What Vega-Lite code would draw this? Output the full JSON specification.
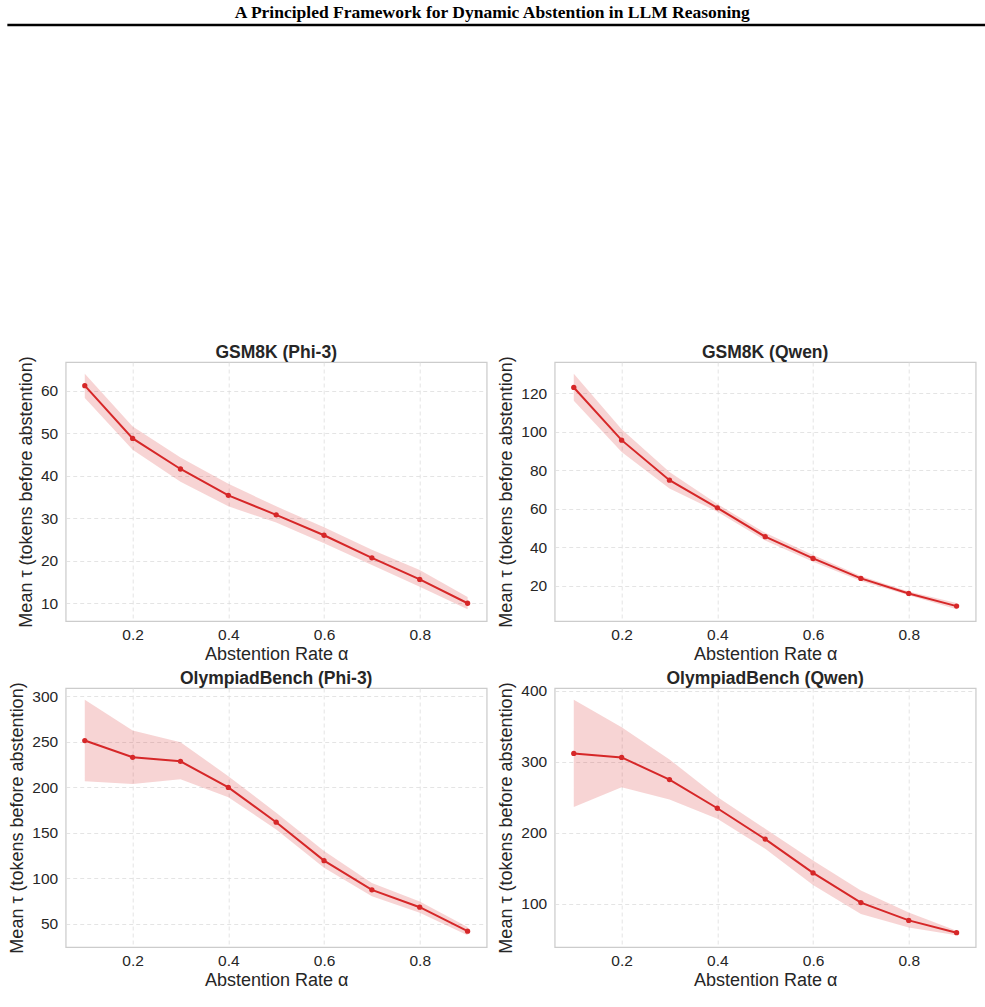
{
  "$schema": "https://vega.github.io/schema/vega-lite/v6.json",
  "background": "white",
  "padding": {"left": 6, "top": 4, "right": 0, "bottom": 0},
  "center": true,
  "spacing": 316,
  "config": {
    "font": "Liberation Sans",
    "view": {"stroke": "#cccccc", "strokeWidth": 1.25},
    "title": {"font": "Liberation Sans", "fontSize": 17.5, "fontWeight": "bold", "color": "#262626", "anchor": "middle", "offset": -6},
    "axis": {
      "domain": false,
      "ticks": false,
      "grid": true,
      "gridColor": "#dddddd",
      "gridDash": [4, 3],
      "gridWidth": 0.8,
      "labelFont": "Liberation Sans",
      "labelFontSize": 15.5,
      "labelColor": "#262626",
      "titleFont": "Liberation Sans",
      "titleFontSize": 18,
      "titleFontWeight": "normal",
      "titleColor": "#262626",
      "tickCount": 5
    },
    "axisX": {"labelPadding": 6, "titlePadding": 3},
    "axisY": {"labelPadding": 8, "titlePadding": 5}
  },
  "datasets": {
    "tau": [
      {"panel": "GSM8K (Phi-3)", "alpha": 0.1, "mean": 61.2, "lo": 58.3, "hi": 64.0},
      {"panel": "GSM8K (Phi-3)", "alpha": 0.2, "mean": 48.8, "lo": 46.1, "hi": 51.6},
      {"panel": "GSM8K (Phi-3)", "alpha": 0.3, "mean": 41.6, "lo": 38.6, "hi": 44.3},
      {"panel": "GSM8K (Phi-3)", "alpha": 0.4, "mean": 35.4, "lo": 32.8, "hi": 38.1},
      {"panel": "GSM8K (Phi-3)", "alpha": 0.5, "mean": 30.8, "lo": 29.0, "hi": 32.8},
      {"panel": "GSM8K (Phi-3)", "alpha": 0.6, "mean": 26.0, "lo": 24.1, "hi": 27.9},
      {"panel": "GSM8K (Phi-3)", "alpha": 0.7, "mean": 20.7, "lo": 19.0, "hi": 22.6},
      {"panel": "GSM8K (Phi-3)", "alpha": 0.8, "mean": 15.6, "lo": 13.9, "hi": 17.8},
      {"panel": "GSM8K (Phi-3)", "alpha": 0.9, "mean": 10.0, "lo": 8.6, "hi": 11.5},
      {"panel": "GSM8K (Qwen)", "alpha": 0.1, "mean": 123.1, "lo": 116.2, "hi": 130.2},
      {"panel": "GSM8K (Qwen)", "alpha": 0.2, "mean": 95.7, "lo": 89.6, "hi": 101.4},
      {"panel": "GSM8K (Qwen)", "alpha": 0.3, "mean": 74.9, "lo": 70.6, "hi": 79.2},
      {"panel": "GSM8K (Qwen)", "alpha": 0.4, "mean": 60.5, "lo": 58.5, "hi": 62.5},
      {"panel": "GSM8K (Qwen)", "alpha": 0.5, "mean": 45.5, "lo": 43.5, "hi": 47.5},
      {"panel": "GSM8K (Qwen)", "alpha": 0.6, "mean": 34.2, "lo": 32.5, "hi": 36.0},
      {"panel": "GSM8K (Qwen)", "alpha": 0.7, "mean": 23.8, "lo": 22.5, "hi": 25.0},
      {"panel": "GSM8K (Qwen)", "alpha": 0.8, "mean": 16.0, "lo": 15.0, "hi": 17.0},
      {"panel": "GSM8K (Qwen)", "alpha": 0.9, "mean": 9.4, "lo": 7.8, "hi": 11.0},
      {"panel": "OlympiadBench (Phi-3)", "alpha": 0.1, "mean": 251.2, "lo": 206.4, "hi": 295.9},
      {"panel": "OlympiadBench (Phi-3)", "alpha": 0.2, "mean": 232.8, "lo": 203.5, "hi": 262.2},
      {"panel": "OlympiadBench (Phi-3)", "alpha": 0.3, "mean": 228.4, "lo": 208.6, "hi": 249.4},
      {"panel": "OlympiadBench (Phi-3)", "alpha": 0.4, "mean": 199.8, "lo": 189.0, "hi": 212.1},
      {"panel": "OlympiadBench (Phi-3)", "alpha": 0.5, "mean": 161.6, "lo": 153.6, "hi": 171.9},
      {"panel": "OlympiadBench (Phi-3)", "alpha": 0.6, "mean": 119.4, "lo": 111.6, "hi": 130.0},
      {"panel": "OlympiadBench (Phi-3)", "alpha": 0.7, "mean": 87.4, "lo": 80.3, "hi": 94.9},
      {"panel": "OlympiadBench (Phi-3)", "alpha": 0.8, "mean": 68.3, "lo": 62.1, "hi": 74.6},
      {"panel": "OlympiadBench (Phi-3)", "alpha": 0.9, "mean": 42.0, "lo": 37.6, "hi": 46.7},
      {"panel": "OlympiadBench (Qwen)", "alpha": 0.1, "mean": 311.8, "lo": 236.3, "hi": 387.4},
      {"panel": "OlympiadBench (Qwen)", "alpha": 0.2, "mean": 306.1, "lo": 264.2, "hi": 348.6},
      {"panel": "OlympiadBench (Qwen)", "alpha": 0.3, "mean": 274.9, "lo": 246.6, "hi": 303.3},
      {"panel": "OlympiadBench (Qwen)", "alpha": 0.4, "mean": 234.4, "lo": 219.7, "hi": 250.4},
      {"panel": "OlympiadBench (Qwen)", "alpha": 0.5, "mean": 190.9, "lo": 177.2, "hi": 205.5},
      {"panel": "OlympiadBench (Qwen)", "alpha": 0.6, "mean": 143.2, "lo": 126.2, "hi": 160.8},
      {"panel": "OlympiadBench (Qwen)", "alpha": 0.7, "mean": 101.3, "lo": 85.2, "hi": 118.3},
      {"panel": "OlympiadBench (Qwen)", "alpha": 0.8, "mean": 76.2, "lo": 66.3, "hi": 87.5},
      {"panel": "OlympiadBench (Qwen)", "alpha": 0.9, "mean": 58.8, "lo": 55.3, "hi": 61.6}
    ]
  },
  "vconcat": [
    {
      "width": 1026,
      "height": 1,
      "view": {"stroke": null},
      "title": {
        "text": "A Principled Framework for Dynamic Abstention in LLM Reasoning",
        "font": "Liberation Serif",
        "fontSize": 17.5,
        "fontWeight": "bold",
        "color": "black",
        "anchor": "middle",
        "offset": 2,
        "dx": -28
      },
      "data": {"values": [{}]},
      "mark": {"type": "rule", "color": "black", "strokeWidth": 2.6},
      "encoding": {
        "y": {"datum": 0, "type": "quantitative", "scale": {"domain": [0, 1]}, "axis": null}
      }
    },
    {
      "spacing": 4,
      "vconcat": [
        {
          "spacing": 9,
          "hconcat": [
            {
              "title": "GSM8K (Phi-3)",
              "width": 421, "height": 259,
              "data": {"name": "tau"},
              "transform": [{"filter": "datum.panel === 'GSM8K (Phi-3)'"}],
              "encoding": {"x": {"field": "alpha", "type": "quantitative", "title": "Abstention Rate α", "scale": {"zero": false, "nice": false, "padding": 19.1}}},
              "layer": [
                {"mark": {"type": "area", "color": "#d62728", "opacity": 0.2}, "encoding": {"y": {"field": "lo", "type": "quantitative", "title": "Mean τ (tokens before abstention)", "scale": {"zero": false, "nice": false, "padding": 11.8}}, "y2": {"field": "hi"}}},
                {"mark": {"type": "line", "color": "#d62728", "strokeWidth": 2}, "encoding": {"y": {"field": "mean", "type": "quantitative", "title": "Mean τ (tokens before abstention)"}}},
                {"mark": {"type": "point", "filled": true, "color": "#d62728", "size": 28, "opacity": 1}, "encoding": {"y": {"field": "mean", "type": "quantitative", "title": "Mean τ (tokens before abstention)"}}}
              ]
            },
            {
              "title": "GSM8K (Qwen)",
              "width": 421, "height": 259,
              "data": {"name": "tau"},
              "transform": [{"filter": "datum.panel === 'GSM8K (Qwen)'"}],
              "encoding": {"x": {"field": "alpha", "type": "quantitative", "title": "Abstention Rate α", "scale": {"zero": false, "nice": false, "padding": 19.1}}},
              "layer": [
                {"mark": {"type": "area", "color": "#d62728", "opacity": 0.2}, "encoding": {"y": {"field": "lo", "type": "quantitative", "title": "Mean τ (tokens before abstention)", "scale": {"zero": false, "nice": false, "padding": 11.8}}, "y2": {"field": "hi"}}},
                {"mark": {"type": "line", "color": "#d62728", "strokeWidth": 2}, "encoding": {"y": {"field": "mean", "type": "quantitative", "title": "Mean τ (tokens before abstention)"}}},
                {"mark": {"type": "point", "filled": true, "color": "#d62728", "size": 28, "opacity": 1}, "encoding": {"y": {"field": "mean", "type": "quantitative", "title": "Mean τ (tokens before abstention)"}}}
              ]
            }
          ]
        },
        {
          "spacing": 9,
          "hconcat": [
            {
              "title": "OlympiadBench (Phi-3)",
              "width": 421, "height": 259,
              "data": {"name": "tau"},
              "transform": [{"filter": "datum.panel === 'OlympiadBench (Phi-3)'"}],
              "encoding": {"x": {"field": "alpha", "type": "quantitative", "title": "Abstention Rate α", "scale": {"zero": false, "nice": false, "padding": 19.1}}},
              "layer": [
                {"mark": {"type": "area", "color": "#d62728", "opacity": 0.2}, "encoding": {"y": {"field": "lo", "type": "quantitative", "title": "Mean τ (tokens before abstention)", "scale": {"zero": false, "nice": false, "padding": 11.8}}, "y2": {"field": "hi"}}},
                {"mark": {"type": "line", "color": "#d62728", "strokeWidth": 2}, "encoding": {"y": {"field": "mean", "type": "quantitative", "title": "Mean τ (tokens before abstention)"}}},
                {"mark": {"type": "point", "filled": true, "color": "#d62728", "size": 28, "opacity": 1}, "encoding": {"y": {"field": "mean", "type": "quantitative", "title": "Mean τ (tokens before abstention)"}}}
              ]
            },
            {
              "title": "OlympiadBench (Qwen)",
              "width": 421, "height": 259,
              "data": {"name": "tau"},
              "transform": [{"filter": "datum.panel === 'OlympiadBench (Qwen)'"}],
              "encoding": {"x": {"field": "alpha", "type": "quantitative", "title": "Abstention Rate α", "scale": {"zero": false, "nice": false, "padding": 19.1}}},
              "layer": [
                {"mark": {"type": "area", "color": "#d62728", "opacity": 0.2}, "encoding": {"y": {"field": "lo", "type": "quantitative", "title": "Mean τ (tokens before abstention)", "scale": {"zero": false, "nice": false, "padding": 11.8}}, "y2": {"field": "hi"}}},
                {"mark": {"type": "line", "color": "#d62728", "strokeWidth": 2}, "encoding": {"y": {"field": "mean", "type": "quantitative", "title": "Mean τ (tokens before abstention)"}}},
                {"mark": {"type": "point", "filled": true, "color": "#d62728", "size": 28, "opacity": 1}, "encoding": {"y": {"field": "mean", "type": "quantitative", "title": "Mean τ (tokens before abstention)"}}}
              ]
            }
          ]
        }
      ]
    }
  ]
}
